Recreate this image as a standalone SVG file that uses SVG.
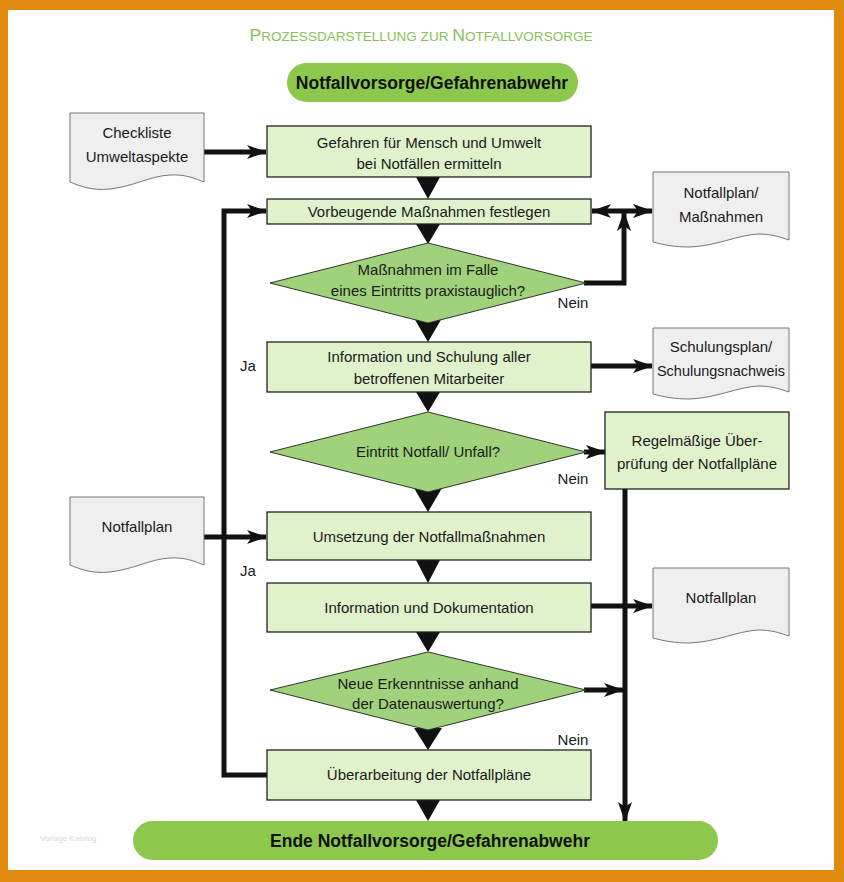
<svg xmlns="http://www.w3.org/2000/svg" width="844" height="882" viewBox="0 0 844 882">
<defs>
<style>
.t{font-family:"Liberation Sans",Arial,sans-serif;font-size:15px;fill:#1a1a1a;text-anchor:middle}
.b{font-family:"Liberation Sans",Arial,sans-serif;font-size:17.5px;font-weight:bold;fill:#111;text-anchor:middle}
.box{fill:#e0f2cc;stroke:#222;stroke-width:1.3}
.dia{fill:#9fd27a;stroke:#333;stroke-width:1}
.doc{fill:#efefef;stroke:#777;stroke-width:1}
.pill{fill:#8cc84b}
.ln{fill:none;stroke:#111;stroke-width:5}
.tri{fill:#111}
</style>
<marker id="ah" markerUnits="userSpaceOnUse" markerWidth="20" markerHeight="14" refX="19" refY="7" orient="auto">
<path d="M0,0 L20,7 L0,14 L5,7 Z" fill="#111"/>
</marker>
<marker id="as" markerUnits="userSpaceOnUse" markerWidth="20" markerHeight="14" refX="1" refY="7" orient="auto">
<path d="M20,0 L0,7 L20,14 L15,7 Z" fill="#111"/>
</marker>
</defs>
<rect x="0" y="0" width="844" height="882" fill="#e08a0e"/>
<rect x="8" y="10" width="826" height="860" fill="#fdfefd"/>
<text x="421" y="41" font-family="'Liberation Sans',Arial,sans-serif" font-size="13" fill="#8cbf5c" text-anchor="middle" textLength="343" lengthAdjust="spacingAndGlyphs"><tspan font-size="17">P</tspan>ROZESSDARSTELLUNG ZUR <tspan font-size="17">N</tspan>OTFALLVORSORGE</text>
<text x="40" y="841" font-family="'Liberation Sans',Arial,sans-serif" font-size="8" fill="#dcdcdc">Vorlage Katalog</text>

<g id="connectors">
<line class="ln" x1="204" y1="152" x2="266" y2="152" marker-end="url(#ah)"/>
<polyline class="ln" points="267,775 224,775 224,211 266,211" marker-end="url(#ah)"/>
<line class="ln" x1="592" y1="211" x2="652" y2="211" marker-start="url(#as)" marker-end="url(#ah)"/>
<polyline class="ln" points="584,283 624,283 624,212" marker-end="url(#ah)"/>
<line class="ln" x1="591" y1="366" x2="652" y2="366" marker-end="url(#ah)"/>
<line class="ln" x1="584" y1="452" x2="605" y2="452" marker-end="url(#ah)"/>
<line class="ln" x1="625" y1="489" x2="625" y2="821" marker-end="url(#ah)"/>
<line class="ln" x1="204" y1="537" x2="266" y2="537" marker-end="url(#ah)"/>
<line class="ln" x1="591" y1="606" x2="652" y2="606" marker-end="url(#ah)"/>
<line class="ln" x1="584" y1="690" x2="623" y2="690" marker-end="url(#ah)"/>
<polygon class="tri" points="416,177 440,177 428,199"/>
<polygon class="tri" points="416,224 440,224 428,244"/>
<polygon class="tri" points="414,318 442,318 428,342"/>
<polygon class="tri" points="416,392 440,392 428,412"/>
<polygon class="tri" points="414,488 442,488 428,512"/>
<polygon class="tri" points="416,560 440,560 428,583"/>
<polygon class="tri" points="416,632 440,632 428,652"/>
<polygon class="tri" points="414,728 442,728 428,750"/>
<polygon class="tri" points="416,800 440,800 428,821"/>
<text class="t" x="573" y="308">Nein</text>
<text class="t" x="573" y="484">Nein</text>
<text class="t" x="573" y="745">Nein</text>
<text class="t" x="248" y="371">Ja</text>
<text class="t" x="248" y="576">Ja</text>
</g>

<g id="start">
<rect class="pill" x="287" y="63" width="291" height="39" rx="19.5"/>
<text class="b" x="432" y="89">Notfallvorsorge/Gefahrenabwehr</text>
</g>
<g id="checkliste">
<path class="doc" d="M70,113 H204 V182 C196,179 186,174 170,175 C150,176 135,186 110,189 C92,191 80,186 70,182 Z"/>
<text class="t" x="137" y="138">Checkliste</text>
<text class="t" x="137" y="162">Umweltaspekte</text>
</g>
<g id="box1">
<rect class="box" x="267" y="126" width="324" height="51"/>
<text class="t" x="429" y="148">Gefahren für Mensch und Umwelt</text>
<text class="t" x="429" y="169">bei Notfällen ermitteln</text>
</g>
<g id="box2">
<rect class="box" x="267" y="199" width="324" height="25"/>
<text class="t" x="429" y="217">Vorbeugende Maßnahmen festlegen</text>
</g>
<g id="doc-massnahmen">
<path class="doc" d="M653,172 H789 V240 C780,237 772,234 758,234 C738,235 716,246 690,247 C675,247 664,245 653,242 Z"/>
<text class="t" x="721" y="198">Notfallplan/</text>
<text class="t" x="721" y="222">Maßnahmen</text>
</g>
<g id="dia1">
<polygon class="dia" points="428,243 586,283 428,323 270,283"/>
<text class="t" x="428" y="275">Maßnahmen im Falle</text>
<text class="t" x="428" y="296">eines Eintritts praxistauglich?</text>
</g>
<g id="box3">
<rect class="box" x="267" y="342" width="324" height="50"/>
<text class="t" x="429" y="362">Information und Schulung aller</text>
<text class="t" x="429" y="384">betroffenen Mitarbeiter</text>
</g>
<g id="doc-schulung">
<path class="doc" d="M653,328 H789 V392 C780,389 772,386 758,386 C738,387 716,398 690,399 C675,399 664,397 653,394 Z"/>
<text class="t" x="721" y="352">Schulungsplan/</text>
<text class="t" x="721" y="376" style="font-size:14.5px">Schulungsnachweis</text>
</g>
<g id="dia2">
<polygon class="dia" points="428,412 586,452 428,492 270,452"/>
<text class="t" x="428" y="457">Eintritt Notfall/ Unfall?</text>
</g>
<g id="regel">
<rect class="box" x="605" y="412" width="184" height="77"/>
<text class="t" x="697" y="446">Regelmäßige Über-</text>
<text class="t" x="697" y="469">prüfung der Notfallpläne</text>
</g>
<g id="doc-notfallplan-left">
<path class="doc" d="M70,497 H204 V565 C196,562 186,557 170,558 C150,559 135,569 110,572 C92,574 80,569 70,565 Z"/>
<text class="t" x="137" y="532">Notfallplan</text>
</g>
<g id="box4">
<rect class="box" x="267" y="512" width="324" height="48"/>
<text class="t" x="429" y="542">Umsetzung der Notfallmaßnahmen</text>
</g>
<g id="box5">
<rect class="box" x="267" y="583" width="324" height="49"/>
<text class="t" x="429" y="613">Information und Dokumentation</text>
</g>
<g id="doc-notfallplan-right">
<path class="doc" d="M653,568 H789 V636 C780,633 772,630 758,630 C738,631 716,642 690,643 C675,643 664,641 653,638 Z"/>
<text class="t" x="721" y="603">Notfallplan</text>
</g>
<g id="dia3">
<polygon class="dia" points="428,652 586,690 428,730 270,690"/>
<text class="t" x="428" y="689">Neue Erkenntnisse anhand</text>
<text class="t" x="428" y="709">der Datenauswertung?</text>
</g>
<g id="box6">
<rect class="box" x="267" y="750" width="324" height="50"/>
<text class="t" x="429" y="780">Überarbeitung der Notfallpläne</text>
</g>
<g id="end">
<rect class="pill" x="133" y="821" width="585" height="39" rx="19.5"/>
<text class="b" x="430" y="847">Ende Notfallvorsorge/Gefahrenabwehr</text>
</g>
</svg>
